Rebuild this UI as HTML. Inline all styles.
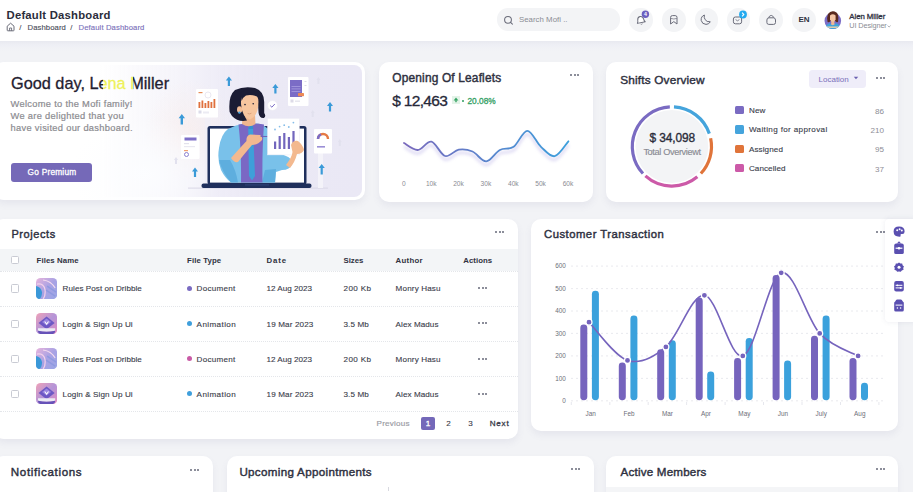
<!DOCTYPE html>
<html><head><meta charset="utf-8">
<style>
*{margin:0;padding:0;box-sizing:border-box}
html,body{width:913px;height:492px;overflow:hidden;background:#f2f3f6;font-family:"Liberation Sans",sans-serif;color:#2c2e3e}
.a{position:absolute;white-space:nowrap;line-height:1}
.card{position:absolute;background:#fff;border-radius:10px;box-shadow:0 4px 7px rgba(110,115,160,.09)}
.dots{position:absolute;width:10px;height:3px}
.dots i{position:absolute;top:0;width:2px;height:2px;border-radius:50%;background:#666878}
.dots i:nth-child(1){left:0}.dots i:nth-child(2){left:3.5px}.dots i:nth-child(3){left:7px}
.t{font-weight:bold;color:#30323f}
.h{font-weight:normal;color:#2e3040;-webkit-text-stroke:.42px #2e3040}
.circ{position:absolute;width:23.5px;height:23.5px;border-radius:50%;background:#f3f4f6}
</style></head><body>
<!-- HEADER -->
<div class="a" style="left:0;top:0;width:913px;height:41px;background:#fff;position:absolute"></div>
<div class="a" style="left:0;top:41px;width:913px;height:10px;background:linear-gradient(#e8e9f0,#eeeff5 40%,#f2f3f6)"></div>
<div class="a t" style="left:6.5px;top:10.4px;font-size:11.3px;color:#2b2d3b;letter-spacing:0.222px">Default Dashboard</div>
<div class="a" style="left:19.3px;top:24px;font-size:7.7px;color:#4b4d5a;-webkit-text-stroke:.12px #4b4d5a">/</div>
<div class="a" style="left:27.6px;top:24px;font-size:7.7px;color:#4b4d5a;-webkit-text-stroke:.12px #4b4d5a;letter-spacing:0.078px">Dashboard</div>
<div class="a" style="left:70.3px;top:24px;font-size:7.7px;color:#4b4d5a;-webkit-text-stroke:.12px #4b4d5a">/</div>
<div class="a" style="left:78.6px;top:24px;font-size:7.7px;color:#7a70ba;-webkit-text-stroke:.12px #7a70ba;letter-spacing:0.102px">Default Dashboard</div>

<!-- search -->
<div class="a" style="left:497px;top:8.4px;width:123px;height:22.3px;border-radius:11px;background:#f3f4f6"></div>
<div class="a" style="left:519px;top:15.7px;font-size:7.8px;color:#8a8c94;letter-spacing:0.034px">Search Mofi ..</div>

<div class="circ" style="left:629.2px;top:8px"></div>
<div class="circ" style="left:662px;top:8px"></div>
<div class="circ" style="left:694.5px;top:8px"></div>
<div class="circ" style="left:726.5px;top:8px"></div>
<div class="circ" style="left:759.3px;top:8px"></div>
<div class="circ" style="left:792px;top:8px"></div>
<div class="a t" style="left:798.4px;top:15.6px;font-size:8px;color:#30323f">EN</div>
<svg class="a" style="left:0;top:0" width="913" height="41" viewBox="0 0 913 41">
 <!-- home icon -->
 <path d="M7.2 26.2 L10.6 23.2 L14 26.2 L14 30.2 Q14 30.8 13.4 30.8 L7.8 30.8 Q7.2 30.8 7.2 30.2 Z" fill="none" stroke="#6a6c78" stroke-width="1"/>
 <path d="M9.6 30.8 V28 H11.6 V30.8" fill="none" stroke="#6a6c78" stroke-width="0.9"/>
 <!-- search icon -->
 <circle cx="508" cy="19.8" r="3.4" fill="none" stroke="#6a6c7a" stroke-width="1.05"/>
 <path d="M510.6 22.4 L512.4 24.2" stroke="#6a6c7a" stroke-width="1.05" stroke-linecap="round"/>
 <!-- bell -->
 <g transform="rotate(-12 640.8 20.2)">
 <path d="M636.8 22.6 Q637.8 21.6 637.8 19.8 Q638 16.6 640.8 16.4 Q643.6 16.6 643.8 19.8 Q643.8 21.6 644.8 22.6 Z" fill="#fff" stroke="#6a6c7a" stroke-width="1" stroke-linejoin="round"/>
 <path d="M639.9 24 Q640.8 24.8 641.7 24" fill="none" stroke="#8a8c98" stroke-width=".9"/>
 </g>
 <circle cx="645.4" cy="14.2" r="3.7" fill="#6c5fc0"/>
 <text x="645.4" y="16.2" font-size="5.2" font-weight="bold" fill="#fff" text-anchor="middle" font-family="Liberation Sans">4</text>
 <!-- bookmark -->
 <path d="M670.6 24 V17.4 Q670.6 15.6 672.4 15.6 H675.2 Q677 15.6 677 17.4 V24 L673.8 21.6 Z" fill="none" stroke="#6a6c7a" stroke-width="1" stroke-linejoin="round"/>
 <path d="M670.8 18.4 Q673.8 19.6 676.8 18.4" fill="none" stroke="#6a6c7a" stroke-width=".7"/>
 <!-- moon -->
 <path d="M704.4 15 Q700.8 16.4 701.2 20.4 Q702 24.2 706 24.4 Q708.9 24.4 710.3 21.8 Q706.7 22.2 705.1 19.6 Q703.7 17.4 704.4 15 Z" fill="none" stroke="#6a6c7a" stroke-width="1" stroke-linejoin="round"/>
 <!-- message -->
 <rect x="733.4" y="17" width="8.2" height="6.8" rx="2" fill="none" stroke="#6a6c7a" stroke-width="1"/>
 <path d="M735.6 19.6 L737.5 20.8 L739.4 19.6" fill="none" stroke="#6a6c7a" stroke-width=".8"/>
 <circle cx="743" cy="14.5" r="3.9" fill="#22aaf0"/>
 <path d="M742.1 12.7 L743.8 14.5 L742.1 16.3" fill="none" stroke="#fff" stroke-width="1.1"/>
 <!-- bag -->
 <path d="M766.9 20 Q766.9 17.8 769 17.8 H773.4 Q775.5 17.8 775.5 20 V22.6 Q775.5 24.4 773.6 24.4 H768.8 Q766.9 24.4 766.9 22.6 Z" fill="none" stroke="#6a6c7a" stroke-width="1"/>
 <path d="M768.6 17.8 Q769.4 15.4 771.2 15.4 Q773 15.4 773.8 17.8" fill="none" stroke="#6a6c7a" stroke-width=".9"/>
 <!-- avatar -->
 <defs><clipPath id="av"><circle cx="832.8" cy="20.8" r="8.3"/></clipPath></defs>
 <circle cx="832.8" cy="20.8" r="8.3" fill="#7b6dc6"/>
 <g clip-path="url(#av)">
  <path d="M824 32 Q824.4 25 829.2 23.2 L832.8 24.6 L836.4 23.2 Q841.2 25 841.6 32 Z" fill="#3ea3dc"/>
  <rect x="826.5" y="26.4" width="12.6" height="1.6" fill="#d9cdb0"/>
 </g>
 <path d="M827.6 22 Q826.6 17 828 14 Q830 11 833 11.2 Q836.6 11.4 837.8 14.4 Q839 18 838 22 Q836 22.6 835.2 21 L830.6 21 Q829.6 22.6 827.6 22 Z" fill="#5a2a1f"/>
 <path d="M830 15.4 Q832.8 13.2 835.6 15.4 L835.6 19.4 Q834.4 22.2 832.8 22.4 Q831.2 22.2 830 19.4 Z" fill="#f4c5a5"/>
 <path d="M831.4 21.6 H834.2 L834.6 24.4 L832.8 25.2 L831 24.4 Z" fill="#f0b894"/>
 <path d="M887.6 25.6 L889.1 27 L890.6 25.6" fill="none" stroke="#8a8c94" stroke-width="0.7"/>
</svg>

<div class="a" style="left:849.3px;top:13px;font-size:7.8px;font-weight:normal;color:#2e3040;-webkit-text-stroke:.3px #2e3040;letter-spacing:-0.045px">Alen Miller</div>
<div class="a" style="left:849.3px;top:21.8px;font-size:7.3px;color:#8a8c94;letter-spacing:-0.102px">UI Designer</div>

<!-- ROW 1 -->
<div class="card" style="left:-6px;top:61.5px;width:371px;height:138.5px"></div>
<div class="a" style="left:100px;top:65px;width:262px;height:132px;border-radius:0 8px 8px 0;background:radial-gradient(ellipse 45px 50px at 90px 65px,rgba(250,236,232,.55),rgba(250,236,232,0)),linear-gradient(90deg,rgba(238,236,246,0) 0%,rgba(237,235,246,.55) 30%,rgba(236,234,246,.85) 45%,#ebe9f5 62%,#eae8f5 100%)"></div>
<div class="a" style="left:70px;top:115px;width:150px;height:85px;background:radial-gradient(ellipse at 50% 70%,rgba(252,253,255,.95),rgba(252,253,255,0) 70%)"></div>
<div class="a" style="left:11px;top:74.7px;font-size:16.3px;color:#1f2030;-webkit-text-stroke:.3px #1f2030;clip-path:inset(-2px calc(100% - 92px) -4px -2px)">Good day, Lena Miller</div>
<div class="a" style="left:11px;top:74.7px;font-size:16.3px;color:#1f2030;-webkit-text-stroke:.3px #1f2030;clip-path:inset(-2px -2px -4px 122px)">Good day, Lena Miller</div>
<div class="a" style="left:11px;top:74.7px;font-size:16.3px;color:#eef25a;-webkit-text-stroke:.3px #eef25a;clip-path:inset(-2px calc(100% - 122px) -4px 92px)">Good day, Lena Miller</div>
<div class="a" style="left:11px;top:74.7px;font-size:16.3px;color:#d04ab8;-webkit-text-stroke:.3px #d04ab8;clip-path:inset(-2px 0 11px 156.5px)">Good day, Lena Miller</div>
<div class="a" style="left:10.6px;top:97.7px;font-size:9.3px;line-height:12.3px;color:#8b8b90;white-space:normal;width:160px;letter-spacing:.3px;-webkit-text-stroke:.2px #8b8b90">Welcome to the Mofi family!<br>We are delighted that you<br>have visited our dashboard.</div>
<svg class="a" style="left:0;top:0" width="370" height="205" viewBox="0 0 370 205">
 <g id="illus">
 <!-- ground line -->
 <rect x="188" y="187.6" width="140" height="1" fill="#d9d8e6"/>
 <!-- faint bg bars -->
 <rect x="205" y="110" width="6" height="78" fill="#f0eef6" opacity=".7"/>
 <rect x="318" y="150" width="5" height="38" fill="#f4f3f9"/>
 <!-- left orange doc -->
 <rect x="196" y="89" width="22" height="28.5" rx="1" fill="#fff"/>
 <rect x="198.5" y="92" width="4" height="1.2" fill="#e78b57"/>
 <circle cx="208" cy="95" r="3" fill="none" stroke="#e4e2ee" stroke-width=".8"/>
 <g fill="#e0703d"><rect x="198.5" y="102" width="1.8" height="6"/><rect x="201.5" y="100.5" width="1.8" height="7.5"/><rect x="204.5" y="103" width="1.8" height="5"/><rect x="207.5" y="101" width="1.8" height="7"/><rect x="210.5" y="102" width="1.8" height="6"/><rect x="213.5" y="99" width="1.8" height="9"/></g>
 <rect x="198.5" y="110.5" width="3" height="3" fill="#dcdcea"/><rect x="203" y="111.5" width="6" height="2" fill="#ecebf3"/>
 <!-- left small doc -->
 <rect x="181" y="135" width="18.5" height="24" rx="1" fill="#fff"/>
 <rect x="184.5" y="137.5" width="12" height="3" fill="#7e70c8"/>
 <rect x="184" y="143" width="5" height="1.2" fill="#e2e1ec"/><rect x="184" y="146" width="11" height="1.2" fill="#e9e8f1"/>
 <rect x="184" y="150" width="4" height="1.2" fill="#f0a070"/>
 <circle cx="186.5" cy="154.5" r="2" fill="none" stroke="#8b7fd0" stroke-width="1"/>
 <!-- right top purple doc -->
 <rect x="288" y="77" width="20.5" height="29" rx="1" fill="#fff"/>
 <rect x="290" y="80" width="12" height="17" fill="#7b6cc6"/>
 <g fill="#a99ee0"><rect x="291.5" y="86" width="9" height=".8"/><rect x="291.5" y="88.5" width="9" height=".8"/><rect x="291.5" y="91" width="9" height=".8"/></g>
 <rect x="298" y="93" width="6" height="3.2" rx=".6" fill="#ec8a56"/>
 <rect x="290.5" y="99.5" width="3" height="3" fill="#dddbe8"/><rect x="295" y="100.5" width="5" height="1.4" fill="#e6e5ee"/>
 <rect x="304.5" y="81" width="2" height="1" fill="#dcdbe6"/><rect x="304.5" y="85" width="2" height="1" fill="#dcdbe6"/>
 <!-- right donut doc -->
 <rect x="314" y="129" width="18" height="24.5" rx="1" fill="#fff"/>
 <path d="M318 139 A5 5 0 0 1 328 139" fill="none" stroke="#e57a45" stroke-width="2.4"/>
 <path d="M318 139 A5 5 0 0 1 321 134.4" fill="none" stroke="#7b6cc6" stroke-width="2.4"/>
 <rect x="317" y="146" width="8" height="1.6" fill="#9b8fd6"/>
 <!-- check circle -->
 <circle cx="272.5" cy="105.5" r="5" fill="#fff" stroke="#ecebf4" stroke-width=".8"/>
 <path d="M270.2 105.6 L271.9 107.2 L274.8 104" fill="none" stroke="#7b6cc6" stroke-width="1"/>
 <!-- arrows -->
 <g fill="#3a9ad8">
  <path d="M228.9 76.5 L232 80.5 H230 V86 H227.8 V80.5 H225.8 Z"/>
  <path d="M275.4 84 L278.5 88 H276.5 V93.5 H274.3 V88 H272.3 Z"/>
  <path d="M181.8 114 L185 118.2 H183 V124.5 H180.6 V118.2 H178.6 Z"/>
  <path d="M330 102 L333 106 H331.1 V111.5 H328.9 V106 H327 Z"/>
  <path d="M195 167.5 L198 171.5 H196.1 V177 H193.9 V171.5 H192 Z"/>
  <path d="M321.7 164 L324.8 168 H322.8 V174.5 H320.6 V168 H318.6 Z"/>
 </g>
 <g fill="#e2e1ee"><path d="M318.4 77 L320.4 80 H319.4 V84 H317.4 V80 H316.4 Z"/><path d="M312.7 110 L314.7 113 H313.7 V117 H311.7 V113 H310.7 Z"/><path d="M339.8 139 L341.8 142 H340.8 V146 H338.8 V142 H337.8 Z"/><path d="M176 157 L178 160 H177 V164 H175 V160 H174 Z"/></g>
 <!-- laptop -->
 <rect x="207.5" y="126" width="99" height="58.5" rx="2.5" fill="#1f2f5c"/>
 <rect x="210" y="128.6" width="94" height="54" fill="#fff"/>
 <rect x="201.5" y="183.4" width="110" height="4.6" rx="2" fill="#1f2f5c"/>
 <rect x="245" y="184.4" width="24" height="1" fill="#31447a"/>
 <!-- person body -->
 <path d="M231 182.6 Q225 178 221 170 Q217 160 219 148 Q221 134 228 129 Q236 124.5 244 123.5 L258 123.5 Q266 125 270 132 L272 150 L286 156 Q292 158 292 164 Q290 170 282 170 L276 172 L275 182.6 Z" fill="#79c1ea"/>
 <path d="M219 160 Q222 172 231 182.6 L238 182.6 Q236 170 230 160 Z" fill="#5eaede"/>
 <path d="M265 170 L276 169 L275 182.6 L262 182.6 Z" fill="#5eaede"/>
 <path d="M238.5 124.5 Q250 122.5 264 124.5 Q262 150 262.5 182.6 L241 182.6 Q241.5 150 238.5 124.5 Z" fill="#7a68c4"/>
 <path d="M248.2 128 L253 128 L255 176 L252 180.5 L249 176 Z" fill="#3e9fd9"/>
 <path d="M249 124 L252.5 124 L253.4 129 L248.4 129 Z" fill="#3590cf"/>
 <!-- neck/face -->
 <path d="M242.5 115 L255 115 L255.5 124 Q249 128.5 242 124 Z" fill="#f0b78e"/>
 <path d="M229.6 112 Q228 96 235 90 Q244 85.8 255 88 Q264 91 264.2 102 L264.2 113 Q266.5 116.5 263.8 118 Q259.5 118.5 258.6 113 L258 104 L243 104 Q242.5 114 247 120.6 Q238 122.5 232 116 Z" fill="#1b1c34"/>
 <path d="M241 100 Q241.5 93 249.5 92.8 Q258 93 258.4 101 Q258.8 115.5 250 119.6 Q242 117.5 241 104 Z" fill="#f7c59e"/>
 <ellipse cx="239.6" cy="109.6" rx="2.6" ry="3.4" fill="#f4bd95"/>
 <path d="M240.5 93 Q246 87.5 255 89 Q258.6 91 258.6 97 Q252 94 246 95.4 Q243 97 241.6 101 Z" fill="#1b1c34"/>
 <circle cx="239.4" cy="112.6" r="1.2" fill="#45a2dc"/>
 <circle cx="245" cy="104.6" r=".8" fill="#1b1c34"/><circle cx="253.2" cy="103.8" r=".8" fill="#1b1c34"/>
 <path d="M247.6 113.4 Q249.6 114.6 251.4 113.2" stroke="#c98a6a" stroke-width=".6" fill="none"/>
 <!-- arm pointing -->
 <path d="M231 158 Q234 163 238 162 Q246 152 252 145 Q258 145 262 140 Q263 136.5 260 135 L250 134.5 Q246 136 246.5 141 Q239 149 231 158 Z" fill="#f3b98f"/>
 <path d="M260.5 136.4 L272 136.6" stroke="#6e62b8" stroke-width="1"/>
 <!-- chart paper -->
 <rect x="267.5" y="118.3" width="31.8" height="36.6" fill="#fff" stroke="#eceaf4" stroke-width=".5"/>
 <g fill="#7266bd"><rect x="274" y="141.5" width="2.2" height="7.5"/><rect x="278.6" y="136" width="2.2" height="13"/><rect x="283.2" y="133" width="2.2" height="16"/><rect x="287.8" y="137" width="2.2" height="12"/><rect x="292.4" y="131" width="2.2" height="18"/></g>
 <g fill="#86bde8"><circle cx="275" cy="129.5" r=".9"/><circle cx="279.6" cy="126.6" r=".9"/><circle cx="284.2" cy="125.2" r=".9"/><circle cx="288.8" cy="127" r=".9"/><circle cx="293.4" cy="122.6" r=".9"/></g>
 <path d="M286 165 Q292 157 292.5 152 L291 145 Q293 140 298 141 Q303 145 304 150 Q302 154 297 154 Q295 162 290 168 Z" fill="#f3b98f"/>
 </g>
</svg>
<div class="a" style="left:11.2px;top:162.5px;width:80.8px;height:19px;border-radius:3px;background:#7569b8"></div>
<div class="a" style="left:27.6px;top:167.7px;font-size:8.3px;color:#fff;-webkit-text-stroke:.3px #fff;letter-spacing:0.224px">Go Premium</div>

<div class="card" style="left:378.5px;top:61.5px;width:214.5px;height:140px"></div>
<div class="a h" style="left:392.3px;top:72.7px;font-size:11.9px;letter-spacing:0.17px">Opening Of Leaflets</div>
<div class="dots" style="left:570px;top:74px"><i></i><i></i><i></i></div>
<div class="a" style="left:392.3px;top:92.5px;font-size:15.5px;color:#262838;font-weight:500;-webkit-text-stroke:.3px #262838;letter-spacing:-0.695px">$ 12,463</div>
<div class="a" style="left:452px;top:96px;width:8px;height:8px;background:#e3f3e8"></div>
<svg class="a" style="left:452px;top:96px" width="8" height="8" viewBox="0 0 8 8"><path d="M4 1.6 L6.4 4.4 H1.6 Z" fill="#35a363"/><rect x="3.3" y="4.2" width="1.4" height="2" fill="#35a363"/></svg>
<div class="a" style="left:462.2px;top:99.6px;width:2px;height:2px;border-radius:1px;background:#2f9e5e"></div>
<div class="a" style="left:467.5px;top:96.9px;font-size:8.3px;color:#33a064;font-weight:500;-webkit-text-stroke:.3px #33a064">20.08%</div>
<svg class="a" style="left:0;top:0" width="600" height="205" viewBox="0 0 600 205">
 <defs><linearGradient id="lg1" x1="404" y1="0" x2="568" y2="0" gradientUnits="userSpaceOnUse"><stop offset="0" stop-color="#7a6abd"/><stop offset="1" stop-color="#3c9fdc"/></linearGradient>
 <filter id="sh1" x="-10%" y="-50%" width="120%" height="200%"><feGaussianBlur stdDeviation="1.6"/></filter></defs>
 <path d="M404.0 143.0 C406.3 144.2 413.1 150.2 417.7 150.0 C422.3 149.8 426.8 140.7 431.4 141.7 C436.0 142.7 440.5 154.7 445.1 156.0 C449.7 157.3 454.2 150.3 458.8 149.6 C463.4 148.8 467.9 149.5 472.5 151.5 C477.1 153.5 481.6 161.7 486.2 161.4 C490.8 161.2 495.3 152.4 499.9 150.0 C504.5 147.6 509.0 150.0 513.6 146.8 C518.2 143.6 522.7 130.8 527.3 130.8 C531.9 130.8 536.4 142.6 541.0 146.8 C545.6 151.0 550.1 157.1 554.7 156.2 C559.3 155.3 566.1 143.8 568.4 141.3" transform="translate(0,3.5)" fill="none" stroke="#c9c3ec" stroke-width="3" opacity=".55" filter="url(#sh1)"/>
 <path d="M404.0 143.0 C406.3 144.2 413.1 150.2 417.7 150.0 C422.3 149.8 426.8 140.7 431.4 141.7 C436.0 142.7 440.5 154.7 445.1 156.0 C449.7 157.3 454.2 150.3 458.8 149.6 C463.4 148.8 467.9 149.5 472.5 151.5 C477.1 153.5 481.6 161.7 486.2 161.4 C490.8 161.2 495.3 152.4 499.9 150.0 C504.5 147.6 509.0 150.0 513.6 146.8 C518.2 143.6 522.7 130.8 527.3 130.8 C531.9 130.8 536.4 142.6 541.0 146.8 C545.6 151.0 550.1 157.1 554.7 156.2 C559.3 155.3 566.1 143.8 568.4 141.3" fill="none" stroke="url(#lg1)" stroke-width="1.8" stroke-linecap="round"/>
 <g font-family="Liberation Sans" font-size="6.6" fill="#8a8b93"><text x="403.8" y="186.2" text-anchor="middle">0</text><text x="431.2" y="186.2" text-anchor="middle">10k</text><text x="458.5" y="186.2" text-anchor="middle">20k</text><text x="485.9" y="186.2" text-anchor="middle">30k</text><text x="513.3" y="186.2" text-anchor="middle">40k</text><text x="540.6" y="186.2" text-anchor="middle">50k</text><text x="568.0" y="186.2" text-anchor="middle">60k</text></g>
</svg>
<div class="card" style="left:606px;top:61.5px;width:292px;height:140px"></div>
<div class="a h" style="left:620.3px;top:74.9px;font-size:11.8px;letter-spacing:0.17px">Shifts Overview</div>
<div class="a" style="left:809.3px;top:70.2px;width:57px;height:18.1px;border-radius:3.5px;background:#efedf9"></div>
<div class="a" style="left:818.6px;top:75.5px;font-size:8px;color:#7a70ba;letter-spacing:-0.014px">Location</div>
<svg class="a" style="left:853px;top:76px" width="6" height="4" viewBox="0 0 6 4"><path d="M0.8 0.8 H5.2 L3 3.2 Z" fill="#6a60b0"/></svg>
<div class="dots" style="left:876px;top:77px"><i></i><i></i><i></i></div>
<svg class="a" style="left:600px;top:95px" width="120" height="100" viewBox="600 95 120 100">
 <circle cx="671.9" cy="146.5" r="36.4" fill="#f3f4f6"/>
 <path d="M673.97 106.95 A39.6 39.6 0 0 1 709.34 133.61" fill="none" stroke="#45a4dc" stroke-width="3.2"/><path d="M710.63 138.27 A39.6 39.6 0 0 1 700.86 173.51" fill="none" stroke="#e0743a" stroke-width="3.2"/><path d="M697.35 176.84 A39.6 39.6 0 0 1 645.40 175.93" fill="none" stroke="#cc5aa8" stroke-width="3.2"/><path d="M642.94 173.51 A39.6 39.6 0 0 1 669.83 106.95" fill="none" stroke="#7a6bc2" stroke-width="3.2"/>
</svg>
<div class="a" style="left:649.5px;top:133.4px;font-size:11.9px;font-weight:500;color:#2a2c3a;-webkit-text-stroke:.35px #2a2c3a;letter-spacing:-0.109px">$ 34,098</div>
<div class="a" style="left:643.4px;top:148px;font-size:9.2px;color:#8a8b93;-webkit-text-stroke:.15px #8a8b93;letter-spacing:-0.368px">Total Overviewt</div>
<div class="a" style="left:735.4px;top:105.9px;width:8.4px;height:8.4px;border-radius:1.5px;background:#7a6bc2"></div>
<div class="a" style="left:748.9px;top:106.7px;font-size:8.1px;color:#3a3c4a;font-weight:500;-webkit-text-stroke:.12px #3a3c4a;letter-spacing:0.186px">New</div>
<div class="a" style="left:850px;width:34px;text-align:right;top:107.5px;font-size:8.1px;color:#8d8e96">86</div>
<div class="a" style="left:735.4px;top:125.3px;width:8.4px;height:8.4px;border-radius:1.5px;background:#45a4dc"></div>
<div class="a" style="left:748.9px;top:126.1px;font-size:8.1px;color:#3a3c4a;font-weight:500;-webkit-text-stroke:.12px #3a3c4a;letter-spacing:0.352px">Waiting for approval</div>
<div class="a" style="left:850px;width:34px;text-align:right;top:126.9px;font-size:8.1px;color:#8d8e96">210</div>
<div class="a" style="left:735.4px;top:144.7px;width:8.4px;height:8.4px;border-radius:1.5px;background:#e0743a"></div>
<div class="a" style="left:748.9px;top:145.5px;font-size:8.1px;color:#3a3c4a;font-weight:500;-webkit-text-stroke:.12px #3a3c4a;letter-spacing:0.108px">Assigned</div>
<div class="a" style="left:850px;width:34px;text-align:right;top:146.3px;font-size:8.1px;color:#8d8e96">95</div>
<div class="a" style="left:735.4px;top:164.1px;width:8.4px;height:8.4px;border-radius:1.5px;background:#cc5aa8"></div>
<div class="a" style="left:748.9px;top:164.9px;font-size:8.1px;color:#3a3c4a;font-weight:500;-webkit-text-stroke:.12px #3a3c4a;letter-spacing:0.071px">Cancelled</div>
<div class="a" style="left:850px;width:34px;text-align:right;top:165.7px;font-size:8.1px;color:#8d8e96">37</div>


<!-- ROW 2 -->
<div class="card" style="left:-6px;top:218.5px;width:524px;height:220.5px"></div>
<div class="a h" style="left:11.4px;top:229.3px;font-size:11px;letter-spacing:0.576px">Projects</div>
<div class="dots" style="left:495px;top:231px"><i></i><i></i><i></i></div>
<div class="a" style="left:0;top:248.5px;width:517.5px;height:22.7px;background:#f3f5f7"></div>
<div class="a" style="left:0;top:271px;width:517.5px;height:0;border-top:1px dotted #e4e6ea"></div>
<div class="a" style="left:10.8px;top:255.8px;width:8.4px;height:8.4px;border:1px solid #c9cbd3;border-radius:1.5px;background:#fff"></div>
<div class="a" style="left:36.6px;top:256.5px;font-size:7.8px;font-weight:bold;color:#30323f;letter-spacing:0.086px">Files Name</div>
<div class="a" style="left:187px;top:256.5px;font-size:7.8px;font-weight:bold;color:#30323f;letter-spacing:0.116px">File Type</div>
<div class="a" style="left:266.5px;top:256.5px;font-size:7.8px;font-weight:bold;color:#30323f;letter-spacing:0.877px">Date</div>
<div class="a" style="left:343.5px;top:256.5px;font-size:7.8px;font-weight:bold;color:#30323f;letter-spacing:-0.0px">Sizes</div>
<div class="a" style="left:395.6px;top:256.5px;font-size:7.8px;font-weight:bold;color:#30323f;letter-spacing:0.277px">Author</div>
<div class="a" style="left:463.3px;top:256.5px;font-size:7.8px;font-weight:bold;color:#30323f;letter-spacing:0.025px">Actions</div>
<div class="a" style="left:10.8px;top:284.4px;width:8.4px;height:8.4px;border:1px solid #c9cbd3;border-radius:1.5px;background:#fff"></div>
<svg class="a" style="left:35.7px;top:278.0px" width="21.2" height="21.2" viewBox="0 0 21 21"><defs><linearGradient id="tg0" x1="0" y1="0" x2="1" y2="1"><stop offset="0" stop-color="#e8b4dc"/><stop offset=".5" stop-color="#a9a2e4"/><stop offset="1" stop-color="#9aa6e6"/></linearGradient></defs><rect width="21" height="21" rx="4.5" fill="url(#tg0)"/><path d="M0 8 Q5 9 6 14 Q6 19 3 21 L4.5 21 Q0 21 0 16.5 Z" fill="#3a98d8"/><path d="M1 6 Q8 5 9 12 Q9.5 18 7 21" stroke="#f3d0ea" stroke-width="1.2" fill="none"/><path d="M7 2 Q15 3 19 10" stroke="#f6dcef" stroke-width="1" fill="none"/><path d="M11 8 L20 14 M10 12 L19 18" stroke="#8f9ae0" stroke-width="1.4" fill="none"/></svg>
<div class="a" style="left:62.6px;top:285.4px;font-size:8.1px;color:#3a3c4a;font-weight:500;-webkit-text-stroke:.12px #3a3c4a;letter-spacing:0.049px">Rules Post on Dribble</div>
<div class="a" style="left:186.8px;top:286.1px;width:5px;height:5px;border-radius:50%;background:#7a6bc2"></div>
<div class="a" style="left:196.6px;top:285.4px;font-size:8.1px;color:#3a3c4a;font-weight:500;-webkit-text-stroke:.12px #3a3c4a;letter-spacing:0.238px">Document</div>
<div class="a" style="left:266.5px;top:285.4px;font-size:8.1px;color:#3a3c4a;font-weight:500;-webkit-text-stroke:.12px #3a3c4a;letter-spacing:0.01px">12 Aug 2023</div>
<div class="a" style="left:343.5px;top:285.4px;font-size:8.1px;color:#3a3c4a;font-weight:500;-webkit-text-stroke:.12px #3a3c4a;letter-spacing:0.382px">200 Kb</div>
<div class="a" style="left:395.6px;top:285.4px;font-size:8.1px;color:#3a3c4a;font-weight:500;-webkit-text-stroke:.12px #3a3c4a;letter-spacing:0.148px">Monry Hasu</div>
<div class="dots" style="left:478px;top:287px"><i></i><i></i><i></i></div>
<div class="a" style="left:0;top:306.1px;width:517.5px;height:0;border-top:1px dotted #e4e6ea"></div>
<div class="a" style="left:10.8px;top:319.5px;width:8.4px;height:8.4px;border:1px solid #c9cbd3;border-radius:1.5px;background:#fff"></div>
<svg class="a" style="left:35.7px;top:313.1px" width="21.2" height="21.2" viewBox="0 0 21 21"><defs><linearGradient id="tg1" x1="0" y1="0" x2="1" y2="1"><stop offset="0" stop-color="#f0a2b8"/><stop offset=".5" stop-color="#b495d8"/><stop offset="1" stop-color="#e48cc0"/></linearGradient></defs><rect width="21" height="21" rx="4.5" fill="url(#tg1)"/><path d="M2.5 10 L10.5 3.5 L18.5 10 L10.5 16 Z" fill="#6d58c4"/><path d="M6 9 L10.5 5.5 L15 9 L10.5 12.5 Z" fill="#9a86e0"/><path d="M8.6 8.4 L10.5 11 L12.4 8.4" stroke="#fff" stroke-width="1" fill="none"/><path d="M2 15 H19 V17.5 Q10.5 19.5 2 17.5 Z" fill="#ecebf4"/><path d="M2 17.5 Q10.5 19.5 19 17.5 V18 Q19 21 15 21 H6 Q2 21 2 18 Z" fill="#6652b8"/></svg>
<div class="a" style="left:62.6px;top:320.5px;font-size:8.1px;color:#3a3c4a;font-weight:500;-webkit-text-stroke:.12px #3a3c4a;letter-spacing:0.099px">Login &amp; Sign Up Ui</div>
<div class="a" style="left:186.8px;top:321.2px;width:5px;height:5px;border-radius:50%;background:#3f9fdc"></div>
<div class="a" style="left:196.6px;top:320.5px;font-size:8.1px;color:#3a3c4a;font-weight:500;-webkit-text-stroke:.12px #3a3c4a;letter-spacing:0.396px">Animation</div>
<div class="a" style="left:266.5px;top:320.5px;font-size:8.1px;color:#3a3c4a;font-weight:500;-webkit-text-stroke:.12px #3a3c4a;letter-spacing:0.142px">19 Mar 2023</div>
<div class="a" style="left:343.5px;top:320.5px;font-size:8.1px;color:#3a3c4a;font-weight:500;-webkit-text-stroke:.12px #3a3c4a;letter-spacing:0.103px">3.5 Mb</div>
<div class="a" style="left:395.6px;top:320.5px;font-size:8.1px;color:#3a3c4a;font-weight:500;-webkit-text-stroke:.12px #3a3c4a;letter-spacing:0.064px">Alex Madus</div>
<div class="dots" style="left:478px;top:322px"><i></i><i></i><i></i></div>
<div class="a" style="left:0;top:341.2px;width:517.5px;height:0;border-top:1px dotted #e4e6ea"></div>
<div class="a" style="left:10.8px;top:354.6px;width:8.4px;height:8.4px;border:1px solid #c9cbd3;border-radius:1.5px;background:#fff"></div>
<svg class="a" style="left:35.7px;top:348.2px" width="21.2" height="21.2" viewBox="0 0 21 21"><defs><linearGradient id="tg2" x1="0" y1="0" x2="1" y2="1"><stop offset="0" stop-color="#e8b4dc"/><stop offset=".5" stop-color="#a9a2e4"/><stop offset="1" stop-color="#9aa6e6"/></linearGradient></defs><rect width="21" height="21" rx="4.5" fill="url(#tg2)"/><path d="M0 8 Q5 9 6 14 Q6 19 3 21 L4.5 21 Q0 21 0 16.5 Z" fill="#3a98d8"/><path d="M1 6 Q8 5 9 12 Q9.5 18 7 21" stroke="#f3d0ea" stroke-width="1.2" fill="none"/><path d="M7 2 Q15 3 19 10" stroke="#f6dcef" stroke-width="1" fill="none"/><path d="M11 8 L20 14 M10 12 L19 18" stroke="#8f9ae0" stroke-width="1.4" fill="none"/></svg>
<div class="a" style="left:62.6px;top:355.6px;font-size:8.1px;color:#3a3c4a;font-weight:500;-webkit-text-stroke:.12px #3a3c4a;letter-spacing:0.049px">Rules Post on Dribble</div>
<div class="a" style="left:186.8px;top:356.3px;width:5px;height:5px;border-radius:50%;background:#c95ba6"></div>
<div class="a" style="left:196.6px;top:355.6px;font-size:8.1px;color:#3a3c4a;font-weight:500;-webkit-text-stroke:.12px #3a3c4a;letter-spacing:0.238px">Document</div>
<div class="a" style="left:266.5px;top:355.6px;font-size:8.1px;color:#3a3c4a;font-weight:500;-webkit-text-stroke:.12px #3a3c4a;letter-spacing:0.01px">12 Aug 2023</div>
<div class="a" style="left:343.5px;top:355.6px;font-size:8.1px;color:#3a3c4a;font-weight:500;-webkit-text-stroke:.12px #3a3c4a;letter-spacing:0.382px">200 Kb</div>
<div class="a" style="left:395.6px;top:355.6px;font-size:8.1px;color:#3a3c4a;font-weight:500;-webkit-text-stroke:.12px #3a3c4a;letter-spacing:0.148px">Monry Hasu</div>
<div class="dots" style="left:478px;top:358px"><i></i><i></i><i></i></div>
<div class="a" style="left:0;top:376.3px;width:517.5px;height:0;border-top:1px dotted #e4e6ea"></div>
<div class="a" style="left:10.8px;top:389.7px;width:8.4px;height:8.4px;border:1px solid #c9cbd3;border-radius:1.5px;background:#fff"></div>
<svg class="a" style="left:35.7px;top:383.3px" width="21.2" height="21.2" viewBox="0 0 21 21"><defs><linearGradient id="tg3" x1="0" y1="0" x2="1" y2="1"><stop offset="0" stop-color="#f0a2b8"/><stop offset=".5" stop-color="#b495d8"/><stop offset="1" stop-color="#e48cc0"/></linearGradient></defs><rect width="21" height="21" rx="4.5" fill="url(#tg3)"/><path d="M2.5 10 L10.5 3.5 L18.5 10 L10.5 16 Z" fill="#6d58c4"/><path d="M6 9 L10.5 5.5 L15 9 L10.5 12.5 Z" fill="#9a86e0"/><path d="M8.6 8.4 L10.5 11 L12.4 8.4" stroke="#fff" stroke-width="1" fill="none"/><path d="M2 15 H19 V17.5 Q10.5 19.5 2 17.5 Z" fill="#ecebf4"/><path d="M2 17.5 Q10.5 19.5 19 17.5 V18 Q19 21 15 21 H6 Q2 21 2 18 Z" fill="#6652b8"/></svg>
<div class="a" style="left:62.6px;top:390.7px;font-size:8.1px;color:#3a3c4a;font-weight:500;-webkit-text-stroke:.12px #3a3c4a;letter-spacing:0.099px">Login &amp; Sign Up Ui</div>
<div class="a" style="left:186.8px;top:391.4px;width:5px;height:5px;border-radius:50%;background:#3f9fdc"></div>
<div class="a" style="left:196.6px;top:390.7px;font-size:8.1px;color:#3a3c4a;font-weight:500;-webkit-text-stroke:.12px #3a3c4a;letter-spacing:0.396px">Animation</div>
<div class="a" style="left:266.5px;top:390.7px;font-size:8.1px;color:#3a3c4a;font-weight:500;-webkit-text-stroke:.12px #3a3c4a;letter-spacing:0.142px">19 Mar 2023</div>
<div class="a" style="left:343.5px;top:390.7px;font-size:8.1px;color:#3a3c4a;font-weight:500;-webkit-text-stroke:.12px #3a3c4a;letter-spacing:0.103px">3.5 Mb</div>
<div class="a" style="left:395.6px;top:390.7px;font-size:8.1px;color:#3a3c4a;font-weight:500;-webkit-text-stroke:.12px #3a3c4a;letter-spacing:0.064px">Alex Madus</div>
<div class="dots" style="left:478px;top:393px"><i></i><i></i><i></i></div>
<div class="a" style="left:0;top:411.4px;width:517.5px;height:0;border-top:1px dotted #e4e6ea"></div>

<div class="a" style="left:376.6px;top:420px;font-size:8.1px;color:#9a9ba3;font-weight:500;-webkit-text-stroke:.18px #9a9ba3;letter-spacing:0.211px">Previous</div>
<div class="a" style="left:421.3px;top:416.6px;width:13.6px;height:13.6px;border-radius:2px;background:#7468b9"></div>
<div class="a" style="left:421.3px;top:420px;width:13.6px;text-align:center;font-size:8.1px;color:#fff;-webkit-text-stroke:.3px #fff">1</div>
<div class="a" style="left:441.5px;top:420px;width:14px;text-align:center;font-size:8.1px;color:#3a3c4a;font-weight:500;-webkit-text-stroke:.12px #3a3c4a">2</div>
<div class="a" style="left:463.4px;top:420px;width:14px;text-align:center;font-size:8.1px;color:#3a3c4a;font-weight:500;-webkit-text-stroke:.12px #3a3c4a">3</div>
<div class="a" style="left:489.7px;top:420px;font-size:8.1px;color:#3a3c4a;-webkit-text-stroke:.3px #3a3c4a;letter-spacing:0.772px">Next</div>

<div class="card" style="left:530.5px;top:218.5px;width:367.5px;height:212.5px"></div>
<div class="a h" style="left:544px;top:229.3px;font-size:11.3px;letter-spacing:0.489px">Customer Transaction</div>
<div class="dots" style="left:876px;top:231px"><i></i><i></i><i></i></div>
<svg class="a" style="left:530px;top:250px" width="383" height="180" viewBox="530 250 383 180">
<line x1="571" y1="400.8" x2="884" y2="400.8" stroke="#e3e4ea" stroke-width=".8" stroke-dasharray="2 3"/>
<text x="565.8" y="403.0" text-anchor="end" font-family="Liberation Sans" font-size="6.4" fill="#6c6e78">0</text>
<line x1="571" y1="378.4" x2="884" y2="378.4" stroke="#e3e4ea" stroke-width=".8" stroke-dasharray="2 3"/>
<text x="565.8" y="380.6" text-anchor="end" font-family="Liberation Sans" font-size="6.4" fill="#6c6e78">100</text>
<line x1="571" y1="355.9" x2="884" y2="355.9" stroke="#e3e4ea" stroke-width=".8" stroke-dasharray="2 3"/>
<text x="565.8" y="358.1" text-anchor="end" font-family="Liberation Sans" font-size="6.4" fill="#6c6e78">200</text>
<line x1="571" y1="333.4" x2="884" y2="333.4" stroke="#e3e4ea" stroke-width=".8" stroke-dasharray="2 3"/>
<text x="565.8" y="335.6" text-anchor="end" font-family="Liberation Sans" font-size="6.4" fill="#6c6e78">300</text>
<line x1="571" y1="311.0" x2="884" y2="311.0" stroke="#e3e4ea" stroke-width=".8" stroke-dasharray="2 3"/>
<text x="565.8" y="313.2" text-anchor="end" font-family="Liberation Sans" font-size="6.4" fill="#6c6e78">400</text>
<line x1="571" y1="288.6" x2="884" y2="288.6" stroke="#e3e4ea" stroke-width=".8" stroke-dasharray="2 3"/>
<text x="565.8" y="290.8" text-anchor="end" font-family="Liberation Sans" font-size="6.4" fill="#6c6e78">500</text>
<line x1="571" y1="266.1" x2="884" y2="266.1" stroke="#e3e4ea" stroke-width=".8" stroke-dasharray="2 3"/>
<text x="565.8" y="268.3" text-anchor="end" font-family="Liberation Sans" font-size="6.4" fill="#6c6e78">600</text>
<line x1="571.3" y1="402" x2="571.3" y2="405" stroke="#e0e1e8" stroke-width=".8"/>
<line x1="609.8" y1="402" x2="609.8" y2="405" stroke="#e0e1e8" stroke-width=".8"/>
<line x1="648.2" y1="402" x2="648.2" y2="405" stroke="#e0e1e8" stroke-width=".8"/>
<line x1="686.6" y1="402" x2="686.6" y2="405" stroke="#e0e1e8" stroke-width=".8"/>
<line x1="725.1" y1="402" x2="725.1" y2="405" stroke="#e0e1e8" stroke-width=".8"/>
<line x1="763.5" y1="402" x2="763.5" y2="405" stroke="#e0e1e8" stroke-width=".8"/>
<line x1="802.0" y1="402" x2="802.0" y2="405" stroke="#e0e1e8" stroke-width=".8"/>
<line x1="840.5" y1="402" x2="840.5" y2="405" stroke="#e0e1e8" stroke-width=".8"/>
<line x1="878.9" y1="402" x2="878.9" y2="405" stroke="#e0e1e8" stroke-width=".8"/>
<rect x="580.3" y="324.5" width="7" height="75.7" rx="3.4" fill="#7664bd"/>
<rect x="591.9" y="290.8" width="7" height="109.4" rx="3.4" fill="#3ba1dc"/>
<text x="590.6" y="415.6" text-anchor="middle" font-family="Liberation Sans" font-size="6.4" fill="#6c6e78">Jan</text>
<rect x="618.8" y="362.6" width="7" height="37.6" rx="3.4" fill="#7664bd"/>
<rect x="630.4" y="315.5" width="7" height="84.7" rx="3.4" fill="#3ba1dc"/>
<text x="629.1" y="415.6" text-anchor="middle" font-family="Liberation Sans" font-size="6.4" fill="#6c6e78">Feb</text>
<rect x="657.2" y="349.2" width="7" height="51.0" rx="3.4" fill="#7664bd"/>
<rect x="668.8" y="340.2" width="7" height="60.0" rx="3.4" fill="#3ba1dc"/>
<text x="667.5" y="415.6" text-anchor="middle" font-family="Liberation Sans" font-size="6.4" fill="#6c6e78">Mar</text>
<rect x="695.7" y="297.5" width="7" height="102.7" rx="3.4" fill="#7664bd"/>
<rect x="707.2" y="371.6" width="7" height="28.6" rx="3.4" fill="#3ba1dc"/>
<text x="706.0" y="415.6" text-anchor="middle" font-family="Liberation Sans" font-size="6.4" fill="#6c6e78">Apr</text>
<rect x="734.1" y="358.1" width="7" height="42.1" rx="3.4" fill="#7664bd"/>
<rect x="745.7" y="337.9" width="7" height="62.3" rx="3.4" fill="#3ba1dc"/>
<text x="744.4" y="415.6" text-anchor="middle" font-family="Liberation Sans" font-size="6.4" fill="#6c6e78">May</text>
<rect x="772.6" y="275.1" width="7" height="125.1" rx="3.4" fill="#7664bd"/>
<rect x="784.1" y="360.4" width="7" height="39.8" rx="3.4" fill="#3ba1dc"/>
<text x="782.9" y="415.6" text-anchor="middle" font-family="Liberation Sans" font-size="6.4" fill="#6c6e78">Jun</text>
<rect x="811.0" y="335.7" width="7" height="64.5" rx="3.4" fill="#7664bd"/>
<rect x="822.6" y="315.5" width="7" height="84.7" rx="3.4" fill="#3ba1dc"/>
<text x="821.3" y="415.6" text-anchor="middle" font-family="Liberation Sans" font-size="6.4" fill="#6c6e78">July</text>
<rect x="849.5" y="358.1" width="7" height="42.1" rx="3.4" fill="#7664bd"/>
<rect x="861.0" y="382.8" width="7" height="17.4" rx="3.4" fill="#3ba1dc"/>
<text x="859.8" y="415.6" text-anchor="middle" font-family="Liberation Sans" font-size="6.4" fill="#6c6e78">Aug</text>
<path d="M589.0 322.2 C595.4 328.6 614.6 356.3 627.5 360.4 C640.3 364.5 653.1 357.8 665.9 346.9 C678.7 336.1 691.5 293.8 704.4 295.3 C717.2 296.8 730.0 359.6 742.8 355.9 C755.6 352.2 768.4 276.6 781.2 272.8 C794.1 269.1 806.9 319.6 819.7 333.4 C832.5 347.3 851.7 352.2 858.1 355.9" fill="none" stroke="#7664bd" stroke-width="1.6"/>
<circle cx="589.0" cy="322.2" r="3" fill="#7664bd" stroke="#fff" stroke-width="1.2"/>
<circle cx="627.5" cy="360.4" r="3" fill="#7664bd" stroke="#fff" stroke-width="1.2"/>
<circle cx="665.9" cy="346.9" r="3" fill="#7664bd" stroke="#fff" stroke-width="1.2"/>
<circle cx="704.4" cy="295.3" r="3" fill="#7664bd" stroke="#fff" stroke-width="1.2"/>
<circle cx="742.8" cy="355.9" r="3" fill="#7664bd" stroke="#fff" stroke-width="1.2"/>
<circle cx="781.2" cy="272.8" r="3" fill="#7664bd" stroke="#fff" stroke-width="1.2"/>
<circle cx="819.7" cy="333.4" r="3" fill="#7664bd" stroke="#fff" stroke-width="1.2"/>
<circle cx="858.1" cy="355.9" r="3" fill="#7664bd" stroke="#fff" stroke-width="1.2"/>
</svg>


<!-- ROW 3 -->
<div class="card" style="left:-6px;top:456px;width:219px;height:60px"></div>
<div class="card" style="left:226.5px;top:456px;width:367px;height:60px"></div>
<div class="card" style="left:606px;top:456px;width:292px;height:60px"></div>
<div class="a h" style="left:10.8px;top:465.9px;font-size:11.6px;letter-spacing:0.638px">Notifications</div>
<div class="dots" style="left:190px;top:469px"><i></i><i></i><i></i></div>
<div class="a h" style="left:239.4px;top:465.9px;font-size:11.6px;letter-spacing:0.327px">Upcoming Appointments</div>
<div class="dots" style="left:571px;top:468px"><i></i><i></i><i></i></div>
<div class="a" style="left:387.5px;top:487px;width:1px;height:4px;background:#d8d9e0"></div>
<div class="a h" style="left:620.6px;top:465.9px;font-size:11.6px;letter-spacing:0.207px">Active Members</div>
<div class="dots" style="left:876px;top:468px"><i></i><i></i><i></i></div>
<div class="a" style="left:606px;top:487px;width:292px;height:6px;background:#f4f5f7"></div>
<!-- customizer -->
<div class="a" style="left:885px;top:218.5px;width:30px;height:103.5px;background:#fff;border-radius:4px 0 0 4px;box-shadow:0 0 5px rgba(100,105,140,.12)"></div>
<svg class="a" style="left:885px;top:218px" width="28" height="104" viewBox="885 218 28 104">
 <g fill="#5a4fb0">
  <path d="M899 226.5 Q904.6 226.5 904.6 231.4 Q904.6 234 902.4 234 L901.2 234 Q900.2 234.3 900.6 235.4 Q901 236.8 899.4 236.8 Q893.6 236.8 893.6 231.6 Q893.6 226.5 899 226.5 Z"/>
  <path d="M894.2 245.6 Q894.2 243.6 896.2 243.6 L901.8 243.6 Q903.8 243.6 903.8 245.6 L903.8 252.4 Q903.8 254 902.2 254 L895.8 254 Q894.2 254 894.2 252.4 Z"/>
  <path d="M896.8 243.6 L899 241.2 L901.2 243.6 Z"/>
  <path d="M899 262.6 L900.4 263.6 L902.2 263.4 L902.6 265.2 L904 266.4 L903.2 268 L903.6 269.8 L901.8 270.4 L900.8 271.8 L899 271.4 L897.2 271.8 L896.2 270.4 L894.4 269.8 L894.8 268 L894 266.4 L895.4 265.2 L895.8 263.4 L897.6 263.6 Z"/>
  <rect x="894.2" y="281" width="9.6" height="10.6" rx="2"/>
  <path d="M895.6 301 Q895.6 299.4 897.2 299.4 L900.8 299.4 Q902.4 299.4 902.4 301 L903.8 302.6 L903.8 310 Q903.8 311.6 902.2 311.6 L895.8 311.6 Q894.2 311.6 894.2 310 L894.2 302.6 Z"/>
 </g>
 <g fill="#fff"><circle cx="897.2" cy="230.2" r="1"/><circle cx="899.6" cy="229.2" r="1"/><circle cx="901.8" cy="230.6" r="1"/>
 <rect x="895.6" y="247.6" width="6.8" height="1.2"/><circle cx="899" cy="248.2" r="1.3"/>
 <circle cx="899" cy="267.2" r="1.5"/>
 <rect x="895.6" y="284.8" width="6.8" height="1"/><rect x="895.6" y="287.4" width="6.8" height="1"/><circle cx="897.4" cy="285.3" r=".9"/><circle cx="900.6" cy="287.9" r=".9"/>
 <rect x="895.6" y="304.6" width="6.8" height="1"/><circle cx="897.4" cy="308" r=".8"/><circle cx="900.6" cy="308" r=".8"/></g>
</svg>


</body></html>
